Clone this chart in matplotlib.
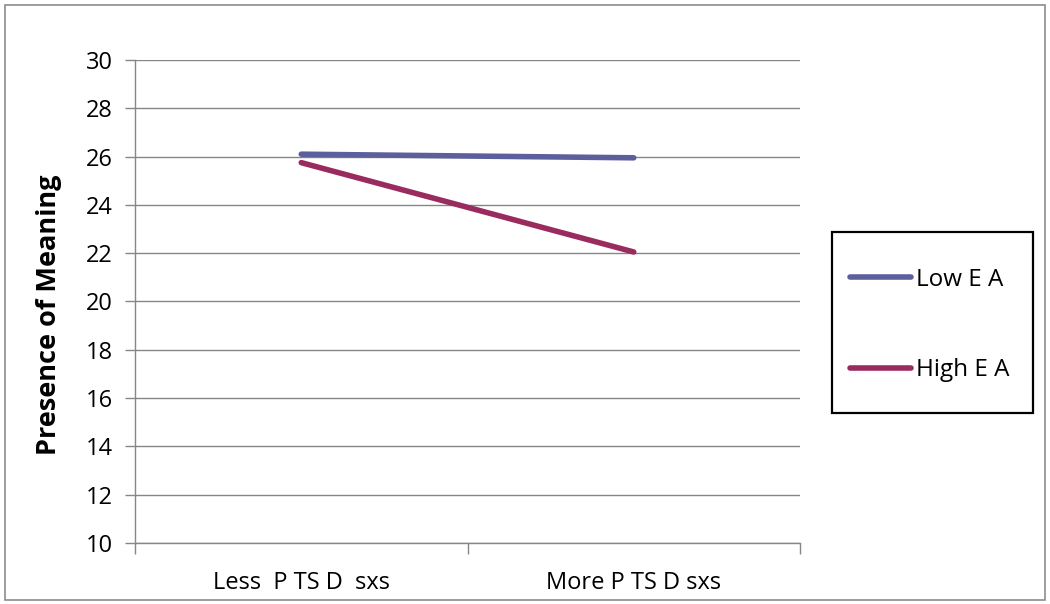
import matplotlib.pyplot as plt
from matplotlib.patches import Rectangle

categories = ['Less  P TS D  sxs', 'More P TS D sxs']
low_ea = [26.1, 25.95]
high_ea = [25.75, 22.05]
series_names = ['Low E A', 'High E A']
yticks = [10, 12, 14, 16, 18, 20, 22, 24, 26, 28, 30]

plt.rcParams['font.family'] = ['Open Sans', 'DejaVu Sans']

fig = plt.figure(figsize=(10.5, 6.04), dpi=100)
fig.patches.append(Rectangle((5 / 1050, 4 / 604), 1040 / 1050, 595 / 604,
                             transform=fig.transFigure, fill=False,
                             edgecolor='#8c8c8c', linewidth=1.2))
# legend frame
fig.patches.append(Rectangle((832 / 1050, 1 - 413 / 604), 201 / 1050, 181 / 604,
                             transform=fig.transFigure, fill=False,
                             edgecolor='black', linewidth=1.6))

ax = fig.add_axes([135 / 1050, 1 - 543 / 604, 665 / 1050, 483 / 604])

x = [0.5, 1.5]
ax.plot(x, low_ea, color='#5c5f9c', linewidth=4, solid_capstyle='round', label=series_names[0])
ax.plot(x, high_ea, color='#9a2b5f', linewidth=4, solid_capstyle='round', label=series_names[1])

ax.set_xlim(0, 2)
ax.set_ylim(10, 30)
ax.set_yticks(yticks)
ax.set_xticks([0, 1, 2])
ax.set_xticklabels([])
ax.set_xticks(x, minor=True)
ax.set_xticklabels(categories, minor=True)
ax.tick_params(axis='x', which='minor', length=0, pad=20, labelsize=17)
ax.tick_params(axis='x', which='major', length=8, color='#868686', width=1)
ax.tick_params(axis='y', length=7, color='#868686', width=1, labelsize=17, pad=9)

ax.yaxis.grid(True, color='#868686', linewidth=1)
ax.set_axisbelow(True)
for s in ['top', 'right']:
    ax.spines[s].set_visible(False)
for s in ['left', 'bottom']:
    ax.spines[s].set_color('#868686')
    ax.spines[s].set_linewidth(1)

ax.set_ylabel('Presence of Meaning', fontsize=19.5, fontweight='bold')
ax.yaxis.set_label_coords(-0.11, 0.472)

leg = ax.legend(loc='center left', bbox_to_anchor=(850 / 1050, 1 - 325 / 604),
                bbox_transform=fig.transFigure, frameon=False,
                fontsize=17.5, handlelength=2.5, handletextpad=0.2,
                labelspacing=2.75, borderpad=0, borderaxespad=0)

fig.savefig('out.png', dpi=100)
